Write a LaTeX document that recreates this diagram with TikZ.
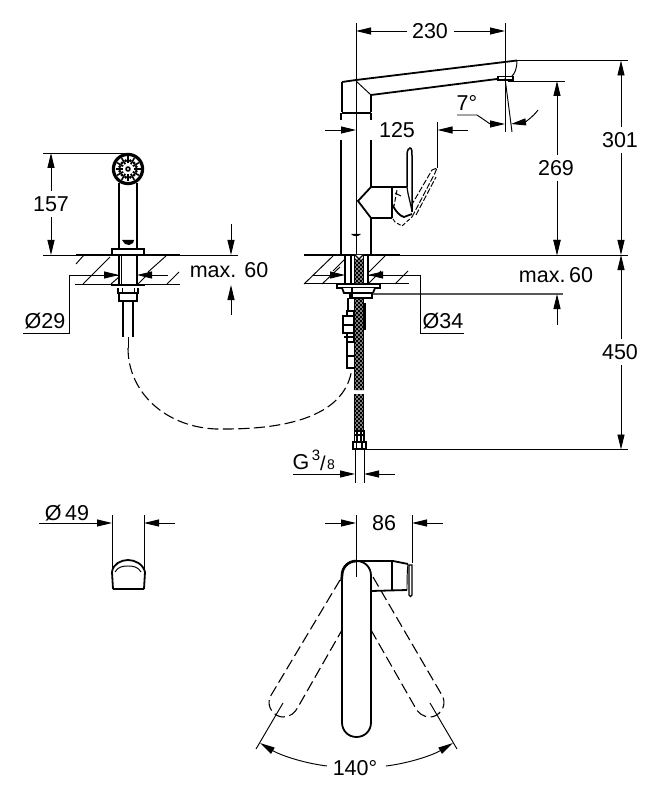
\documentclass[tikz,border=0pt]{standalone}
\usepackage{fontspec}
\setmainfont{Liberation Sans}
\usetikzlibrary{arrows.meta}
\tikzset{
  thin line/.style={line width=0.95pt,black},
  part/.style={line width=1.8pt,black},
  heavy/.style={line width=2.6pt,black},
  dash line/.style={line width=1.1pt,black,dash pattern=on 11pt off 4.5pt},
  dim/.style={thin line,-{Stealth[length=15pt,width=7pt,inset=0pt]}},
  labn/.style={font=\fontsize{21.5}{21.5}\selectfont,inner sep=0pt},
}
\begin{document}
\begin{tikzpicture}[x=1pt,y=-1pt]
\useasboundingbox (0,0) rectangle (659,799);
\fill[white] (0,0) rectangle (659,799);

% ---------- main faucet side view ----------
\draw[part] (342,82) -- (356,80) -- (517,60.5);
\draw[part] (371,95) -- (497,79);
\draw[part] (342,82) -- (342,112);
\draw[part] (371,95) -- (371,112);
\draw[thin line] (356,81) -- (371,95);
\draw[part] (342,113) -- (371,113);
\draw[part] (341,113) -- (341,120);
\draw[part] (371,113) -- (371,120);
\draw[part] (341,140) -- (341,255);
\draw[part] (371,140) -- (371,187) -- (392,187);
\draw[part] (371,187) -- (358,201) -- (371,218) -- (392,218);
\draw[part] (371,218) -- (371,255);
\draw[part] (392,187) -- (392,218);
\draw[part] (392,187) -- (407,187);
\fill (351,234) -- (361,234) to[bend left=50] (351,234);
% nozzle
\draw[thin line] (517,60.5) .. controls (517,68) and (515,74) .. (511,77);
\draw[part,fill=white] (498,76.5) rectangle (513,80);
% lever
\draw[line width=1.5pt] (407,187) -- (407,155) .. controls (407,150) and (409,148) .. (410,148)
   .. controls (412,148) and (412,152) .. (412,156) -- (412,212);
\draw[line width=1.2pt] (407,187) .. controls (408,196) and (411,204) .. (412,212);
\draw[part] (392,204) .. controls (396,212) and (400,216) .. (404,217) -- (412,214);
% dashed lever
\draw[thin line,dash pattern=on 6pt off 2pt] (412,217) -- (435,173) -- (437,168) -- (432,170) -- (411,206);
\draw[thin line,dash pattern=on 6pt off 2pt] (416,215) -- (436,177);
\draw[thin line,dash pattern=on 4pt off 2pt] (393,219) -- (395,222) -- (402,226) -- (412,217);
\draw[thin line,dash pattern=on 5pt off 2pt] (397,190) -- (394,206);
\draw[thin line] (395,193) -- (401,196);

% 230
\node[labn] (t230) at (430,31) {230};
\draw[thin line] (356,23) -- (356,255);
\draw[thin line] (505,23) -- (505,132);
\draw[dim] (407,31) -- (356,31);
\draw[dim] (454,31) -- (505,31);
% 125
\node[labn] (t125) at (397,130) {125};
\draw[dim] (325,130) -- (356,130);
\draw[dim] (468,130) -- (437.5,130);
\draw[thin line] (437.5,122) -- (437.5,168);
% 7 deg
\node[labn] (t7) at (467,103) {7°};
\draw[thin line] (505,78) -- (512,132);
\draw[dim] (457,115) -- (477,115) .. controls (483,119) and (490,124) .. (505,124);
\draw[dim] (538,110) .. controls (533,117) and (525,122) .. (511,124);
% 269
\draw[thin line] (508,81) -- (565,81);
\node[labn] (t269) at (556,168) {269};
\draw[dim] (557,155) -- (557,81);
\draw[dim] (557,181) -- (557,255);
% 301
\draw[thin line] (517,60.5) -- (628,60.5);
\node[labn] (t301) at (620,140) {301};
\draw[dim] (621,127) -- (621,60.5);
\draw[dim] (621,153) -- (621,255);
% deck main
\draw[thin line] (304,255) -- (628,255);
\draw[part] (304,255) -- (400,255);
\draw[part] (304,283.5) -- (409,283.5);
\draw[thin line] (304,284) -- (333,256);
\draw[thin line] (333,271) -- (345,259);
\draw[thin line] (369,272) -- (385,256);
\draw[thin line] (395,284) -- (408,271);
\draw[thin line] (368,284) -- (381,271);
\draw[thin line] (322,284) -- (340,267);
% under-deck pipe
\fill[white] (345,256) rectangle (368,283);
\draw[part] (345,255) -- (345,284);
\draw[part] (368,255) -- (368,284);
\draw[part] (351,255) -- (351,284);
\begin{scope}
  \clip (354.5,255) rectangle (363.5,283) (354.5,298) rectangle (363.5,390) (354.5,394) rectangle (363.5,430);
  \fill[white] (350,250) rectangle (368,435);
  \foreach \k in {0,4,...,192} {
    \draw[line width=1.1pt,black] (350,250+\k) -- (368,268+\k);
    \draw[line width=1.1pt,black] (350,268+\k) -- (368,250+\k);
  }
\end{scope}
\draw[line width=1.2pt] (354.5,255) -- (354.5,283) (363.5,255) -- (363.5,283);
\draw[line width=1.2pt] (354.5,298) -- (354.5,390) (363.5,298) -- (363.5,390);
\draw[line width=1.2pt] (354.5,394) -- (354.5,430) (363.5,394) -- (363.5,430);
% flange and nut
\draw[part,fill=white] (337,284.5) rectangle (380,288);
\draw[part,fill=white] (342,288) -- (344,293) -- (373,293) -- (375,288);
\draw[part] (350,293) -- (350,298) -- (372,298) -- (372,293);
\draw[line width=1.1pt] (352,288) -- (352,298);
% diverter
\draw[part] (348,298) -- (348,312);
\draw[part,fill=white] (347,311) -- (354,311) -- (354,316) -- (347,316) -- cycle;
\draw[part,fill=white] (343,316) rectangle (354,333);
\draw[line width=1.1pt] (343,325) -- (354,325);
\draw[part,fill=white] (347,333) rectangle (354,342);
\draw[line width=1.1pt] (344,337) -- (354,337);
\draw[part] (347,342) -- (347,368) -- (354,368);
\draw[line width=1.1pt] (347,356) -- (354,356);
\draw[part] (365,303) -- (365,330);
% hose bottom fittings
\draw[line width=1.1pt] (354.5,430) -- (354.5,442) (364,430) -- (364,442) (354.5,431) -- (364,431) (354.5,435) -- (364,435) (357,431) -- (357,442) (361,431) -- (361,442);
\draw[part,fill=white] (353,442) rectangle (366,449);
\draw[line width=1.1pt] (356.5,442) -- (356.5,449) (362,442) -- (362,449);
\draw[thin line] (355,449) -- (355,483);
\draw[thin line] (364,449) -- (364,483);
% 450
\draw[thin line] (366,449.5) -- (628,449.5);
\node[labn] (t450) at (620,352) {450};
\draw[dim] (621,339) -- (621,255);
\draw[dim] (621,365) -- (621,449.5);
% max 60 right
\draw[line width=1.3pt,black!65] (373,294) -- (563,294);
\node[labn] (tm60r) at (556,275) {max.\,60};
\draw[dim] (557,222) -- (557,255);
\draw[dim] (557,325) -- (557,294);
% 034
\node[labn] (t34) at (443,321) {Ø34};
\draw[thin line] (368,275) -- (420,275) -- (420,333) -- (464,333);
\draw[dim] (400,275) -- (368,275);
\draw[dim] (313,275) -- (345,275);
% G 3/8
\node[labn] (tG) at (301,462) {G};
\node[font=\fontsize{15}{15}\selectfont,inner sep=0pt] (t3) at (316,455) {3};
\node[font=\fontsize{20}{20}\selectfont,inner sep=0pt] (tsl) at (323,463) {/};
\node[font=\fontsize{14}{14}\selectfont,inner sep=0pt] (t8) at (331,465) {8};
\draw[dim] (293,474) -- (355,474);
\draw[dim] (395,474) -- (364,474);

% ---------- hand shower ----------
\draw[thin line] (43,153) -- (128,153);
\draw[thin line] (43,255) -- (238,255);
\node[labn] (t157) at (51,204) {157};
\draw[dim] (51,191) -- (51,153);
\draw[dim] (51,217) -- (51,255);
% head
\draw[line width=3.2pt,fill=white] (128,169) circle (14.6);
\foreach \a in {0,30,...,330} {
  \draw[line width=1.6pt] (128,169) ++(\a:5.5) -- ++(\a:7);
}
\fill (128,169) circle (2.8);
\fill[white] (128,169) circle (1.2);
\foreach \a in {15,45,...,345} {
  \fill (128,169) ++(\a:8.5) circle (1.6);
}
% shaft
\draw[part] (119,183) -- (119,249);
\draw[part] (137,183) -- (137,249);
\fill (122,240) -- (134,240) -- (133,243) -- (129,245) -- (125,244) -- cycle;
\draw[part,fill=white] (112,249) rectangle (144,255);
\draw[part] (76,255) -- (180,255);
\draw[part] (75,284.5) -- (180,284.5);
\draw[thin line] (76,264) -- (84,255);
\draw[thin line] (83,284) -- (110,257);
\draw[thin line] (111,284) -- (119,277);
\draw[thin line] (138,284) -- (150,272);
\draw[thin line] (148,272) -- (166,256);
\draw[thin line] (167,284) -- (179,272);
\draw[part] (119,255) -- (119,285);
\draw[part] (137,255) -- (137,285);
\draw[thin line] (121,255) -- (121,285);
\draw[heavy] (111,285) -- (145,285);
\draw[part] (118,288) -- (118,293) -- (138,293) -- (138,288);
\draw[thin line] (122,288) -- (122,293) (134,288) -- (134,293);
\draw[part] (119,293) -- (119,301) -- (137,301) -- (137,293);
\draw[part] (123,301) -- (123,337);
\draw[part] (133,301) -- (133,337);
\draw[thin line] (128,337) -- (128,348);
% hose dashed
\draw[dash line] (128,348) .. controls (128,395) and (170,431) .. (225,429)
  .. controls (290,429) and (346,415) .. (352,368);
% 29
\node[labn] (t29) at (45,321) {Ø29};
\draw[thin line] (23,333) -- (69,333) -- (69,275) -- (119,275);
\draw[dim] (90,275) -- (119,275);
\draw[dim] (168,275) -- (137,275);
% max 60 left
\node[labn] (tm60l) at (229,270) {max. 60};
\draw[dim] (231,224) -- (231,255);
\draw[dim] (231,315) -- (231,285);

% ---------- plan small ----------
\node[labn] (t49) at (67,513) {Ø\,49};
\draw[dim] (39,523) -- (112,523);
\draw[dim] (175,523) -- (144,523);
\draw[thin line] (112,515) -- (112,572);
\draw[thin line] (144,515) -- (144,572);
\draw[part] (113,589) -- (144,589);
\draw[part] (113,589) -- (112,572);
\draw[part] (144,589) -- (145,572);
\draw[part] (112,572) .. controls (113,564) and (121,560) .. (128,560) .. controls (135,560) and (143,564) .. (145,572);
\draw[thin line] (115,572) .. controls (118,567) and (122,566) .. (128,566) .. controls (134,566) and (138,567) .. (141,572);

% ---------- plan main ----------
\draw[thin line] (412,515) -- (412,563);
\node[labn] (t86) at (384,523) {86};
\draw[dim] (325,523) -- (356,523);
\draw[dim] (443,523) -- (412,523);
% side arm
\draw[part] (356,561) -- (393,561) -- (408,564);
\draw[part] (371,591) -- (407,590);
\draw[thin line] (408,564) .. controls (407,572) and (407,584) .. (407,590);
\draw[line width=2.2pt] (392,561) -- (392,591);
\draw[line width=1.1pt,fill=white] (409,565) -- (412,565) -- (412,595) .. controls (412,597) and (409,597) .. (409,595) -- cycle;
% handle
\draw[part,fill=white] (342,575.5) .. controls (342,567.5) and (348,561) .. (356.5,561)
  .. controls (365,561) and (371,567.5) .. (371,575.5) -- (371,722.5)
  .. controls (371,730.5) and (365,737) .. (356.5,737)
  .. controls (348,737) and (342,730.5) .. (342,722.5) -- cycle;
\draw[thin line] (356,515) -- (356,577);
\draw[heavy] (341.5,581) -- (342,575.5) .. controls (342,567.5) and (348,561) .. (356.5,561);
% dashed handles
\draw[dash line] (340,580) -- (270,697) .. controls (266,708) and (275,717) .. (283,717)
  .. controls (290,717) and (295,713) .. (298,707) -- (342,630);
\draw[dash line] (373,577) -- (443,697) .. controls (447,708) and (438,717) .. (430,717)
  .. controls (423,717) and (418,713) .. (415,707) -- (371,630);
\draw[thin line] (283,703) -- (256,749);
\draw[thin line] (430,703) -- (457,749);
% 140
\node[labn] (t140) at (355,768) {140°};
\draw[dim] (327,766) .. controls (303,763) and (280,755) .. (260,743);
\draw[dim] (386,766) .. controls (410,763) and (433,755) .. (453,743);
\end{tikzpicture}
\end{document}
